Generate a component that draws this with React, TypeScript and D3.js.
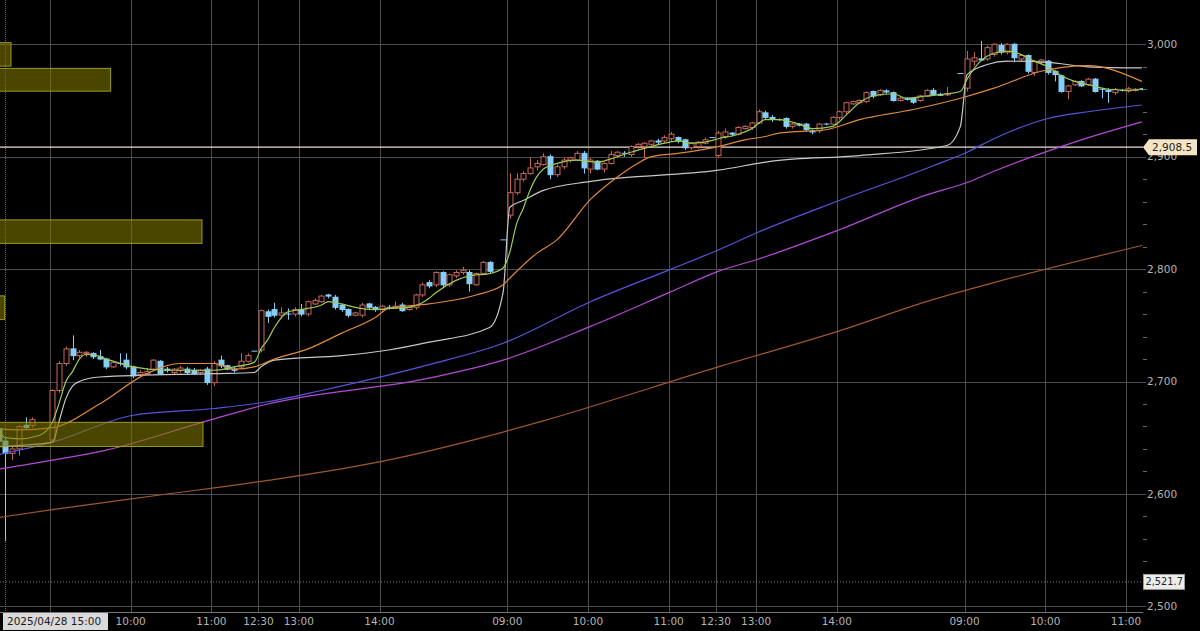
import { useEffect, useRef } from "react";
import * as d3 from "d3";

// 5-minute candles: [slot, open, high, low, close]
const candles: [number, number, number, number, number][] = [
  [-1, 2658, 2659, 2645, 2647], [0, 2647, 2650, 2558, 2636], [1, 2636, 2642, 2630, 2640],
  [2, 2640, 2661, 2634, 2660], [3, 2661, 2668, 2658, 2659], [4, 2661, 2668, 2659, 2666],
  [7, 2648, 2693, 2646, 2692], [8, 2692, 2718, 2690, 2716], [9, 2716, 2731, 2714, 2729],
  [10, 2729, 2741, 2719, 2723], [11, 2723, 2728, 2721, 2726], [12, 2725, 2727, 2722, 2726],
  [13, 2725, 2726, 2720, 2722], [14, 2722, 2728, 2719, 2720], [15, 2720, 2721, 2711, 2713],
  [16, 2713, 2718, 2712, 2717], [17, 2716, 2725, 2714, 2716], [18, 2719, 2725, 2711, 2713],
  [19, 2713, 2714, 2703, 2705], [20, 2706, 2710, 2705, 2708], [21, 2707, 2712, 2706, 2709],
  [22, 2711, 2720, 2709, 2719], [23, 2718, 2719, 2706, 2707], [24, 2711, 2713, 2708, 2710],
  [25, 2708, 2712, 2706, 2711], [26, 2710, 2714, 2708, 2712], [27, 2711, 2713, 2706, 2708],
  [28, 2710, 2712, 2706, 2707], [29, 2708, 2711, 2706, 2710], [30, 2711, 2713, 2697, 2699],
  [31, 2699, 2718, 2696, 2716], [32, 2719, 2723, 2712, 2714], [33, 2714, 2715, 2710, 2711],
  [34, 2711, 2713, 2708, 2710], [35, 2713, 2725, 2711, 2718], [36, 2718, 2725, 2717, 2723],
  [37, 2727, 2727, 2727, 2727], [38, 2728, 2764, 2726, 2763], [39, 2762, 2764, 2752, 2758],
  [40, 2764, 2770, 2757, 2759], [41, 2759, 2766, 2756, 2761], [42, 2760, 2765, 2755, 2760],
  [43, 2760, 2766, 2758, 2764], [44, 2764, 2769, 2758, 2760], [45, 2760, 2772, 2758, 2771],
  [46, 2769, 2774, 2768, 2772], [47, 2771, 2777, 2770, 2776], [48, 2777, 2778, 2774, 2776],
  [49, 2775, 2777, 2764, 2766], [50, 2768, 2769, 2762, 2764], [51, 2764, 2765, 2757, 2759],
  [52, 2759, 2762, 2758, 2761], [53, 2759, 2770, 2757, 2768], [54, 2769, 2770, 2764, 2766],
  [55, 2766, 2767, 2762, 2764], [56, 2764, 2768, 2762, 2767], [57, 2766, 2768, 2764, 2766],
  [58, 2766, 2771, 2765, 2767], [59, 2768, 2770, 2762, 2763], [60, 2764, 2767, 2763, 2766],
  [61, 2766, 2778, 2764, 2777], [62, 2777, 2788, 2775, 2786], [63, 2788, 2790, 2783, 2785],
  [64, 2786, 2798, 2784, 2797], [65, 2797, 2798, 2784, 2786], [66, 2786, 2796, 2784, 2795],
  [67, 2794, 2799, 2792, 2797], [68, 2797, 2802, 2795, 2799], [69, 2797, 2799, 2780, 2787],
  [70, 2786, 2797, 2785, 2796], [71, 2796, 2807, 2795, 2806], [72, 2806, 2807, 2796, 2798],
  [74, 2826, 2826, 2826, 2826], [75, 2848, 2885, 2845, 2868], [76, 2868, 2885, 2866, 2880],
  [77, 2880, 2887, 2878, 2885], [78, 2885, 2899, 2884, 2890], [79, 2891, 2897, 2888, 2894],
  [80, 2893, 2903, 2892, 2900], [81, 2900, 2902, 2880, 2884], [82, 2884, 2893, 2882, 2891],
  [83, 2891, 2899, 2889, 2897], [84, 2897, 2900, 2895, 2899], [85, 2897, 2905, 2896, 2903],
  [86, 2903, 2905, 2885, 2890], [87, 2889, 2899, 2885, 2897], [88, 2896, 2897, 2888, 2889],
  [89, 2889, 2895, 2886, 2894], [90, 2894, 2905, 2893, 2902], [91, 2901, 2905, 2899, 2904],
  [92, 2903, 2905, 2900, 2903], [93, 2902, 2910, 2900, 2909], [94, 2909, 2912, 2907, 2911],
  [95, 2909, 2913, 2899, 2912], [96, 2911, 2915, 2909, 2914], [97, 2914, 2916, 2911, 2913],
  [98, 2914, 2919, 2912, 2917], [99, 2916, 2922, 2914, 2920], [100, 2917, 2918, 2912, 2914],
  [101, 2915, 2916, 2906, 2908], [102, 2908, 2913, 2906, 2912], [103, 2909, 2914, 2907, 2913],
  [104, 2912, 2917, 2911, 2915], [105, 2917, 2917, 2917, 2917], [106, 2901, 2923, 2899, 2921],
  [107, 2918, 2925, 2916, 2922], [108, 2921, 2922, 2918, 2920], [109, 2920, 2927, 2919, 2926],
  [110, 2925, 2928, 2924, 2927], [111, 2926, 2931, 2924, 2930], [112, 2930, 2942, 2929, 2940],
  [113, 2939, 2941, 2933, 2935], [114, 2935, 2937, 2931, 2934], [115, 2933, 2934, 2932, 2933],
  [116, 2934, 2935, 2925, 2927], [117, 2927, 2930, 2925, 2929], [118, 2929, 2930, 2927, 2928.5],
  [119, 2929, 2930, 2922, 2924], [120, 2923, 2924, 2920, 2922], [121, 2923, 2930, 2921, 2929],
  [122, 2929, 2930, 2928, 2929], [123, 2929, 2936, 2928, 2935], [124, 2935, 2941, 2933, 2940],
  [125, 2940, 2949, 2938, 2948], [126, 2947, 2950, 2946, 2949], [127, 2948, 2951, 2947, 2950],
  [128, 2949, 2958, 2948, 2957], [129, 2958, 2959, 2952, 2954], [130, 2955, 2960, 2954, 2959],
  [131, 2958.5, 2960, 2956, 2958], [132, 2957, 2958, 2949, 2950], [133, 2950, 2953, 2949, 2952],
  [134, 2952, 2953, 2950, 2951], [135, 2952, 2953, 2947, 2948.5], [136, 2950, 2955, 2949, 2954],
  [137, 2954, 2960, 2953, 2959], [138, 2959, 2961, 2954, 2955], [139, 2955.5, 2957, 2954, 2955],
  [140, 2955, 2962, 2954, 2956], [142, 2974, 2974, 2974, 2974], [143, 2961, 2994, 2958, 2987],
  [144, 2985, 2993, 2981, 2988], [145, 2987, 3003, 2985, 2986], [146, 2987, 2999, 2985, 2997],
  [147, 2991, 3001, 2989, 3000], [148, 2999, 3001, 2991, 2993], [149, 2993, 3001, 2991, 3000],
  [150, 3000, 3001, 2984, 2988], [151, 2987, 2991, 2985, 2990], [152, 2990, 2991, 2974, 2976],
  [153, 2975, 2986, 2972, 2985], [154, 2984, 2987, 2982, 2986], [155, 2985, 2986, 2973, 2975],
  [156, 2976, 2977, 2967, 2973], [157, 2972, 2973, 2957, 2958], [158, 2958, 2964, 2951, 2963],
  [159, 2964, 2968, 2963, 2967], [160, 2967, 2968, 2962, 2963], [161, 2964, 2970, 2963, 2969],
  [162, 2969, 2970, 2957, 2958], [163, 2960, 2961, 2952, 2960], [164, 2959, 2961, 2948, 2958],
  [165, 2957, 2961, 2955, 2960], [166, 2959, 2960, 2958, 2959], [167, 2958.5, 2962, 2957, 2960.5],
  [168, 2959, 2961, 2958, 2960], [169, 2960.5, 2961, 2959, 2960.5],
];

// moving averages: [slot, price]
const maShort: [number, number][] = [
  [-1, 2656], [0, 2650], [2, 2649], [5, 2652], [7, 2664], [8, 2681], [9, 2700], [10, 2709],
  [11, 2720], [12, 2724], [13, 2724], [15, 2720], [19, 2713], [24, 2710], [29, 2710], [31, 2710],
  [34, 2713], [37, 2717], [38, 2729], [39, 2737], [40, 2748], [42, 2762], [44, 2764], [47, 2768],
  [48, 2771], [50, 2769], [52, 2766], [55, 2764], [57, 2765], [60, 2766], [62, 2770], [63, 2774],
  [64, 2779], [67, 2790], [69, 2794], [72, 2796], [74, 2801], [75, 2815], [76, 2840], [77, 2854],
  [78, 2870], [79, 2882], [80, 2889], [82, 2894], [85, 2897], [88, 2895], [90, 2898], [93, 2904],
  [96, 2909], [98, 2912], [100, 2914], [102, 2912], [104, 2913], [106, 2916], [109, 2920],
  [111, 2925], [113, 2933], [115, 2933], [118, 2929], [120, 2925], [123, 2927], [125, 2937],
  [127, 2948], [129, 2954], [132, 2956], [134, 2952], [137, 2954], [140, 2956], [142, 2958],
  [143, 2969], [145, 2985], [147, 2992], [149, 2994], [151, 2991], [153, 2985], [155, 2980],
  [157, 2972], [159, 2967], [161, 2964], [164, 2960], [167, 2959], [169, 2960],
];

const maMid: [number, number][] = [
  [-1, 2658], [2, 2657], [7, 2659], [14, 2680], [21, 2707], [26, 2716], [31, 2716], [34, 2711],
  [37, 2713], [40, 2720], [45, 2729], [50, 2743], [55, 2757], [57, 2765], [63, 2769], [70, 2777],
  [74, 2786], [75, 2792], [79, 2814], [82, 2826], [87, 2862], [91, 2882], [94, 2894], [96, 2900],
  [100, 2903], [106, 2909], [110, 2915], [113, 2918], [115, 2921], [122, 2924], [127, 2933],
  [135, 2942], [142, 2952], [147, 2961], [154, 2976], [161, 2981], [169, 2967],
];

const maDay: [number, number][] = [
  [-1, 2642], [7, 2646], [8, 2665], [9, 2685], [10, 2696], [11, 2700], [14, 2704], [31, 2707],
  [37, 2708], [38, 2713], [40, 2719], [50, 2723], [57, 2728], [63, 2735], [72, 2748], [74, 2779],
  [75, 2855], [77, 2861], [80, 2870], [87, 2878], [106, 2888], [114, 2896], [127, 2901],
  [140, 2910], [142, 2927], [143, 2973], [146, 2982], [149, 2985], [155, 2984], [161, 2980],
  [169, 2979],
];

const maBlue: [number, number][] = [
  [-1, 2635], [7, 2646], [19, 2670], [31, 2676], [39, 2682], [47, 2692], [63, 2715], [74, 2734],
  [87, 2771], [99, 2800], [106, 2817], [112, 2833], [124, 2861], [138, 2892], [143, 2904],
  [147, 2916], [155, 2934], [161, 2940], [169, 2946],
];

const maPurple: [number, number][] = [
  [-1, 2622], [7, 2630], [15, 2639], [30, 2665], [39, 2680], [63, 2703], [74, 2719], [87, 2749],
  [99, 2780], [106, 2798], [112, 2809], [124, 2835], [137, 2866], [143, 2877], [147, 2887],
  [160, 2915], [169, 2931],
];

const maLong: [number, number][] = [
  [-1, 2579], [7, 2586], [23, 2599], [39, 2612], [56, 2629], [74, 2655], [80, 2665], [106, 2713],
  [124, 2745], [138, 2773], [147, 2788], [169, 2821],
];

// price-band volume boxes on the left
const bandLow = [2980.6, 2958.3, 2822.9, 2755.1, 2642.2];
const bandHigh = [3001.5, 2978.6, 2843.8, 2776.2, 2663.7];
const bandVolume = [5.4, 54.5, 99.5, 2.3, 100];

// time axis (the first 09:00 sits under the date tag and is not labelled)
const timeSlots = [7, 19, 31, 38, 44, 56, 75, 87, 99, 106, 112, 124, 143, 155, 167];
const timeLabels = ["", "10:00", "11:00", "12:30", "13:00", "14:00", "09:00", "10:00", "11:00", "12:30", "13:00", "14:00", "09:00", "10:00", "11:00"];
const dateSlot = 0;
const dateLabel = "2025/04/28 15:00";

const lastPrice = 2908.5;
const lowPrice = 2521.7;

const FONT = "'DejaVu Sans', Verdana, sans-serif";

export default function App() {
  const ref = useRef<SVGSVGElement>(null);

  useEffect(() => {
    document.body.style.margin = "0";
    const svg = d3.select(ref.current);
    svg.selectAll("*").remove();

    const plotRight = 1143;
    const axisY = 612;

    const x = d3.scaleLinear().domain([0, 169]).range([5.4, 5.4 + 169 * 6.725]);
    const y = d3.scaleLinear().domain([2500, 3000]).range([606.3, 44.3]);
    const vol = d3.scaleLinear().domain([0, 100]).range([0, 203]);

    svg.append("rect").attr("width", 1200).attr("height", 631).attr("fill", "#000");

    svg.append("defs").append("clipPath").attr("id", "plot")
      .append("rect").attr("x", 0).attr("y", 0).attr("width", plotRight).attr("height", axisY);

    // grid
    const grid = svg.append("g").attr("stroke", "#4e4e4e").attr("stroke-width", 1);
    timeSlots.forEach((s) => {
      const gx = Math.round(x(s) - 2.5) + 0.5;
      grid.append("line").attr("x1", gx).attr("x2", gx).attr("y1", 0).attr("y2", axisY);
    });
    const dx = Math.round(x(dateSlot)) + 0.5;
    grid.append("line").attr("x1", dx).attr("x2", dx).attr("y1", 0).attr("y2", axisY)
      .attr("stroke-dasharray", "1,1").attr("stroke", "#666");

    const major = y.ticks(5);
    major.forEach((p) => {
      const gy = Math.round(y(p)) + 0.5;
      grid.append("line").attr("x1", 0).attr("x2", plotRight + 3).attr("y1", gy).attr("y2", gy);
    });
    y.ticks(25).filter((p) => p % 100 !== 0).forEach((p) => {
      const gy = Math.round(y(p)) + 0.5;
      grid.append("line").attr("x1", plotRight).attr("x2", plotRight + 4).attr("y1", gy).attr("y2", gy)
        .attr("stroke", "#666");
    });
    svg.append("line").attr("x1", 0).attr("x2", plotRight).attr("y1", axisY + 0.5).attr("y2", axisY + 0.5)
      .attr("stroke", "#777");

    // reference lines
    const ly = y(lastPrice);
    svg.append("line").attr("x1", 0).attr("x2", plotRight).attr("y1", ly).attr("y2", ly)
      .attr("stroke", "#ece2cf").attr("stroke-width", 1.4);
    const lowY = y(lowPrice);
    svg.append("line").attr("x1", 0).attr("x2", plotRight).attr("y1", lowY).attr("y2", lowY)
      .attr("stroke", "#808080").attr("stroke-dasharray", "1,2");

    const plot = svg.append("g").attr("clip-path", "url(#plot)");

    // candles
    candles.forEach(([s, o, h, l, c]) => {
      const cx = Math.round(x(s)) + 0.5;
      const up = c > o;
      const col = up ? "#c8665c" : "#87cefa";
      plot.append("line").attr("x1", cx).attr("x2", cx).attr("y1", y(h)).attr("y2", y(l))
        .attr("stroke", col);
      if (o === c) {
        plot.append("line").attr("x1", cx - 3).attr("x2", cx + 3).attr("y1", y(c)).attr("y2", y(c))
          .attr("stroke", col);
      } else {
        const top = y(Math.max(o, c));
        const bh = Math.max(1, Math.abs(y(o) - y(c)));
        plot.append("rect").attr("x", cx - 2.5).attr("y", top).attr("width", 5).attr("height", bh)
          .attr("fill", up ? "#000" : col).attr("stroke", col);
      }
    });

    // moving averages
    const line = d3.line<[number, number]>()
      .x((d) => x(d[0]))
      .y((d) => y(d[1]))
      .curve(d3.curveMonotoneX);
    const series: [[number, number][], string][] = [
      [maLong, "#a0582c"],
      [maPurple, "#b449d6"],
      [maBlue, "#5555dd"],
      [maDay, "#c8c8c8"],
      [maMid, "#e0893c"],
      [maShort, "#9ccc52"],
    ];
    series.forEach(([data, color]) => {
      plot.append("path").attr("d", line(data)).attr("fill", "none")
        .attr("stroke", color).attr("stroke-width", 1.2);
    });

    // price-band volume
    bandLow.forEach((lo, i) => {
      plot.append("rect")
        .attr("x", -1).attr("y", y(bandHigh[i]))
        .attr("width", vol(bandVolume[i]) + 1).attr("height", y(lo) - y(bandHigh[i]))
        .attr("fill", "rgba(128,120,0,0.58)").attr("stroke", "rgba(170,165,40,0.9)");
    });

    // price axis labels
    major.forEach((p) => {
      svg.append("text").attr("x", plotRight + 4).attr("y", y(p)).attr("dy", "0.35em")
        .attr("fill", "#b4b4b4").attr("font-family", FONT).attr("font-size", 10.5)
        .text(d3.format(",")(p));
    });

    // last price tag (drawn over the axis label like the original)
    svg.append("polygon")
      .attr("points", `${plotRight},${ly} ${plotRight + 6},${ly - 8} ${plotRight + 54},${ly - 8} ${plotRight + 54},${ly + 8} ${plotRight + 6},${ly + 8}`)
      .attr("fill", "#f3e4c6");
    svg.append("text").attr("x", plotRight + 9).attr("y", ly).attr("dy", "0.35em")
      .attr("fill", "#222").attr("font-family", FONT).attr("font-size", 10.5)
      .text(d3.format(",.1f")(lastPrice));

    // low price tag
    svg.append("rect").attr("x", plotRight + 0.5).attr("y", lowY - 7.5).attr("width", 41).attr("height", 15)
      .attr("fill", "#ececec").attr("stroke", "#9a9a9a");
    svg.append("text").attr("x", plotRight + 2.5).attr("y", lowY).attr("dy", "0.35em")
      .attr("fill", "#222").attr("font-family", FONT).attr("font-size", 9.8)
      .text(d3.format(",.1f")(lowPrice));

    // time labels
    timeSlots.forEach((s, i) => {
      if (!timeLabels[i]) return;
      svg.append("text").attr("x", x(s) - 2.5).attr("y", 621).attr("dy", "0.35em")
        .attr("text-anchor", "middle").attr("fill", "#b4b4b4")
        .attr("font-family", FONT).attr("font-size", 10.5).text(timeLabels[i]);
    });
    svg.append("rect").attr("x", 3).attr("y", 613).attr("width", 105).attr("height", 17)
      .attr("fill", "#dadada");
    svg.append("text").attr("x", 7).attr("y", 621.5).attr("dy", "0.35em")
      .attr("fill", "#1a1a1a").attr("font-family", FONT).attr("font-size", 10.5).text(dateLabel);
  }, []);

  return <svg ref={ref} width={1200} height={631} style={{ display: "block" }} />;
}
